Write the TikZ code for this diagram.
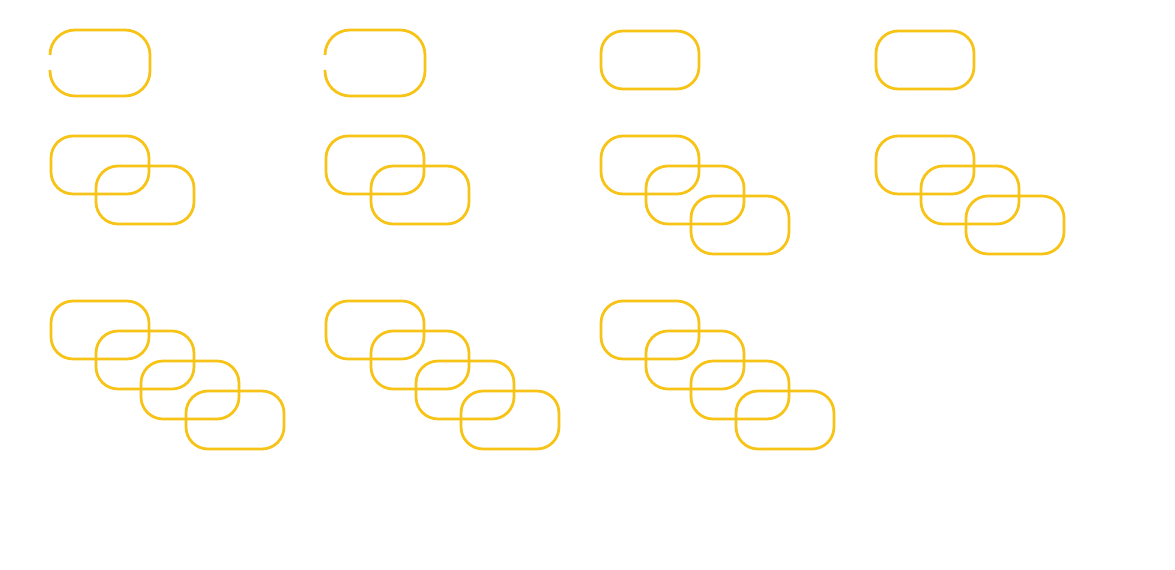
\documentclass[tikz,border=0pt]{standalone}
\definecolor{chaingold}{RGB}{246,195,22}
\tikzset{
    link/.style={draw=chaingold, line width=0.055cm, rounded corners=0.44cm,
        minimum width=1.96cm, minimum height=1.16cm, inner sep=0pt},
    openlink/.style={draw=chaingold, line width=0.055cm, rounded corners=0.5cm}
}
\begin{document}
\begin{tikzpicture}[x=0.02cm, y=-0.02cm]
            \useasboundingbox (0, 0) rectangle (1175, 570);

            % first row
            \draw[openlink] (50, 55) -- (50, 30) -- (150, 30) -- (150, 96) -- (50, 96) -- (50, 70);
            \draw[openlink] (325, 55) -- (325, 30) -- (425, 30) -- (425, 96) -- (325, 96) -- (325, 70);
            \node (c1) at (650, 60) [link] {};
            \node (d1) at (925, 60) [link] {};

            % second row
            \node (a2) at (100, 165) [link] {};
            \node (a3) at (145, 195) [link] {};

            \node (b2) at (375, 165) [link] {};
            \node (b3) at (420, 195) [link] {};

            \node (c2) at (650, 165) [link] {};
            \node (c3) at (695, 195) [link] {};
            \node (c4) at (740, 225) [link] {};

            \node (d2) at (925, 165) [link] {};
            \node (d3) at (970, 195) [link] {};
            \node (d4) at (1015, 225) [link] {};

            % third row
            \node (e1) at (100, 330) [link] {};
            \node (e2) at (145, 360) [link] {};
            \node (e3) at (190, 390) [link] {};
            \node (e4) at (235, 420) [link] {};

            \node (f1) at (375, 330) [link] {};
            \node (f2) at (420, 360) [link] {};
            \node (f3) at (465, 390) [link] {};
            \node (f4) at (510, 420) [link] {};

            \node (g1) at (650, 330) [link] {};
            \node (g2) at (695, 360) [link] {};
            \node (g3) at (740, 390) [link] {};
            \node (g4) at (785, 420) [link] {};

        \end{tikzpicture}
\end{document}
